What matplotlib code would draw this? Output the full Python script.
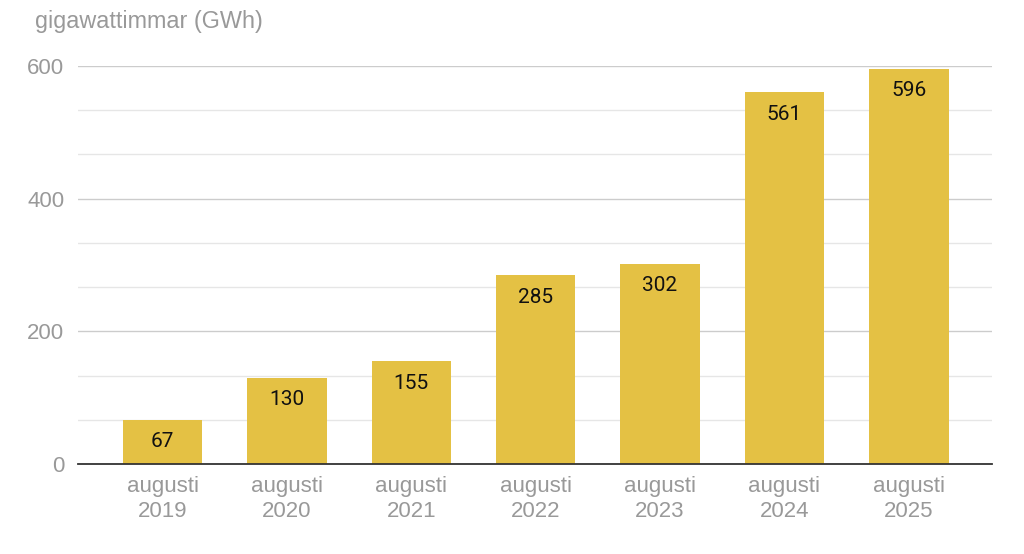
import matplotlib.pyplot as plt
from matplotlib.ticker import MultipleLocator

years = ['2019', '2020', '2021', '2022', '2023', '2024', '2025']
labels = ['augusti\n' + y for y in years]
values = [67, 130, 155, 285, 302, 561, 596]

fig = plt.figure(figsize=(10.24, 5.54), dpi=100)
ax = fig.add_axes([0.0762, 0.1625, 0.8926, 0.7185])

x = range(len(values))
ax.bar(x, values, width=0.64, color='#e4c144', zorder=3)
for i, v in zip(x, values):
    ax.annotate(str(v), (i, v), xytext=(0, -16), textcoords='offset points',
                ha='center', va='center', fontsize=15, color='#111111',
                family='Roboto', zorder=4)

ax.set_xlim(-0.68, 6.67)
ax.set_ylim(0, 600)
ax.yaxis.set_major_locator(MultipleLocator(200))
ax.yaxis.set_minor_locator(MultipleLocator(200 / 3))
ax.grid(which='major', axis='y', color='#cccccc', linewidth=1, zorder=0)
ax.grid(which='minor', axis='y', color='#e6e6e6', linewidth=1, zorder=0)
ax.set_xticks(list(x))
ax.set_xticklabels(labels)
for s in ['top', 'right', 'left']:
    ax.spines[s].set_visible(False)
ax.spines['bottom'].set_color('#333333')
ax.spines['bottom'].set_linewidth(1.3)
ax.spines['bottom'].set_zorder(5)
ax.tick_params(which='both', length=0)
ax.tick_params(axis='y', pad=10)
ax.tick_params(axis='x', pad=9)
for t in ax.get_xticklabels() + ax.get_yticklabels():
    t.set_fontfamily('Liberation Sans')
    t.set_fontsize(16)
    t.set_color('#999999')
    t.set_linespacing(1.2)

fig.text(0.034, 0.962, 'gigawattimmar (GWh)', fontsize=16.8, color='#999999',
         family='Liberation Sans', va='center', ha='left')

fig.savefig('out.png', dpi=100)
